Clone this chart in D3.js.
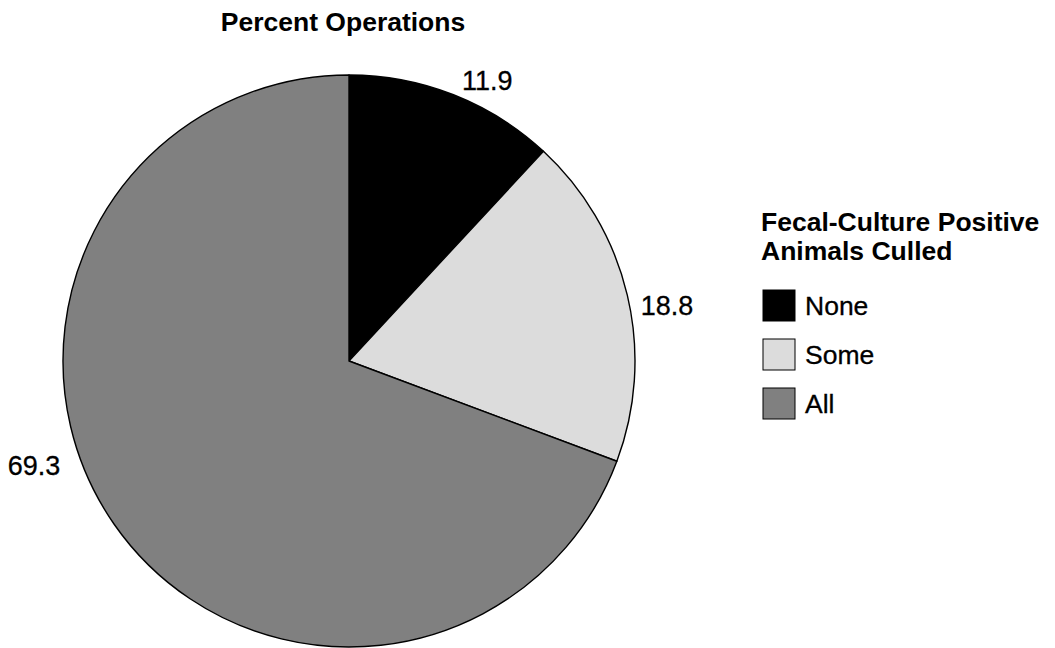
<!DOCTYPE html>
<html><head><meta charset="utf-8">
<script src="https://cdn.jsdelivr.net/npm/d3@7"></script>
<style>body{margin:0;background:#fff}svg{display:block;font-family:"Liberation Sans",Arial,sans-serif}</style>
</head><body>
<svg id="c" width="1055" height="648"></svg>
<script>
const categories = ["None", "Some", "All"];
const values = [11.9, 18.8, 69.3];
const colors = ["#000000", "#dcdcdc", "#808080"];
const title = "Percent Operations";
const legendTitle = ["Fecal-Culture Positive", "Animals Culled"];

const svg = d3.select("#c");
const cx = 349, cy = 361, R = 286;
const data = categories.map((c, i) => ({cat: c, value: values[i], color: colors[i]}));
const pie = d3.pie().value(d => d.value).sort(null);
const arc = d3.arc().innerRadius(0).outerRadius(R);
const arcs = pie(data);

const g = svg.append("g").attr("transform", `translate(${cx},${cy})`);
g.selectAll("path").data(arcs).join("path")
  .attr("d", arc).attr("fill", d => d.data.color)
  .attr("stroke", "#000").attr("stroke-width", 1.4).attr("stroke-linejoin", "round");

// label placement (layout: extra angle offset in degrees, radius, anchor)
const labelLayout = [
  {dAng: 4.8, r: 313, anchor: "middle"},
  {dAng: 2.6, r: 297, anchor: "start"},
  {dAng: 14.9, r: 307, anchor: "end"}
];
g.selectAll("text.lbl").data(arcs).join("text").attr("class", "lbl")
  .each(function(d, i) {
    const L = labelLayout[i];
    const a = (d.startAngle + d.endAngle) / 2 + L.dAng * Math.PI / 180;
    const x = Math.sin(a) * L.r, y = -Math.cos(a) * L.r;
    d3.select(this).attr("x", x).attr("y", y).attr("dy", "0.35em")
      .attr("text-anchor", L.anchor).text(d3.format(".1f")(d.data.value));
  })
  .attr("font-size", 27).attr("fill", "#000")
  .attr("stroke", "#000").attr("stroke-width", 0.3);

svg.append("text").attr("x", 343).attr("y", 31).attr("text-anchor", "middle")
  .attr("font-size", 26.5).attr("font-weight", "bold").text(title);

const lg = svg.append("g").attr("transform", "translate(761,0)");
lg.selectAll("text.lt").data(legendTitle).join("text").attr("class", "lt")
  .attr("x", 0).attr("y", (d, i) => 231 + i * 29)
  .attr("font-size", 26.5).attr("font-weight", "bold").text(d => d);
const items = lg.selectAll("g.item").data(data).join("g").attr("class", "item")
  .attr("transform", (d, i) => `translate(2,${290 + i * 49})`);
items.append("rect").attr("width", 32).attr("height", 31)
  .attr("fill", d => d.color).attr("stroke", "#000").attr("stroke-width", 1);
items.append("text").attr("x", 42).attr("y", 16).attr("dy", "0.35em")
  .attr("font-size", 26.5).attr("stroke", "#000").attr("stroke-width", 0.3).text(d => d.cat);
</script>
</body></html>
